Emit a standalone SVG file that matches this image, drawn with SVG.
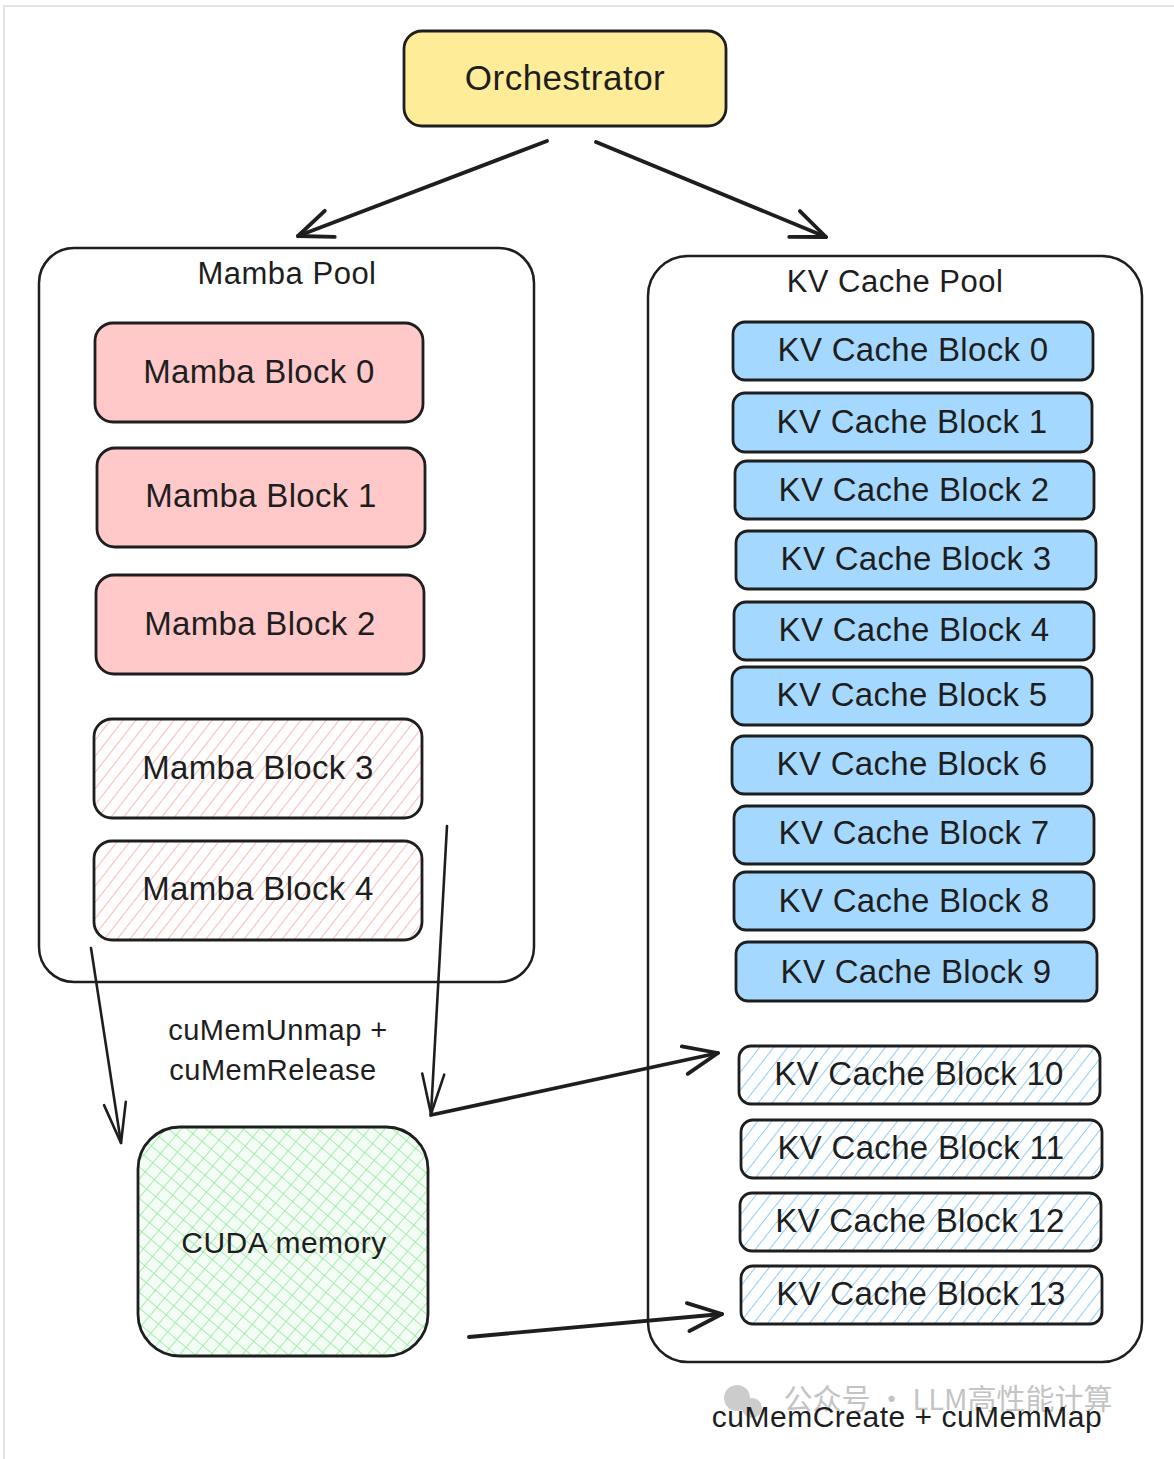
<svg xmlns="http://www.w3.org/2000/svg" width="1174" height="1459" viewBox="0 0 1174 1459">
  <style>
    .t { font-family: "Liberation Sans", Arial, sans-serif; fill: #1e1e1e; text-anchor: middle; }
    .blk { font-size: 33px; letter-spacing: 0.3px; }
    .pool { fill: #ffffff; stroke: #1e1e1e; stroke-width: 2.5; }
    .box { stroke: #1e1e1e; stroke-width: 2.8; }
    .mamba { fill: #ffc9c9; }
    .kv { fill: #a5d8ff; }
    .conn { fill: none; stroke: #1e1e1e; stroke-linecap: round; stroke-linejoin: round; }
  </style>
  <defs>
    <pattern id="hatchPink" patternUnits="userSpaceOnUse" width="10" height="10" patternTransform="rotate(38)">
      <rect width="10" height="10" fill="#ffffff"/>
      <line x1="0" y1="0" x2="0" y2="10" stroke="#f7a8a8" stroke-width="1.6"/>
    </pattern>
    <pattern id="hatchBlue" patternUnits="userSpaceOnUse" width="11" height="11" patternTransform="rotate(38)">
      <rect width="11" height="11" fill="#ffffff"/>
      <line x1="0" y1="0" x2="0" y2="11" stroke="#74c0fc" stroke-width="1.6"/>
    </pattern>
    <pattern id="crossGreen" patternUnits="userSpaceOnUse" width="12" height="12" patternTransform="rotate(40)">
      <rect width="12" height="12" fill="#f4fdf5"/>
      <line x1="0" y1="0" x2="0" y2="12" stroke="#8ce99a" stroke-width="1.5"/>
      <line x1="0" y1="0" x2="12" y2="0" stroke="#8ce99a" stroke-width="1.5"/>
    </pattern>
    <marker id="headBig" markerUnits="userSpaceOnUse" markerWidth="60" markerHeight="60" refX="0" refY="0" viewBox="-45 -30 60 60" orient="auto" overflow="visible">
      <path d="M-34,-14 L0,0 L-34,14" fill="none" stroke="#1e1e1e" stroke-width="3.8" stroke-linecap="round" stroke-linejoin="round"/>
    </marker>
    <marker id="headThin" markerUnits="userSpaceOnUse" markerWidth="60" markerHeight="60" refX="0" refY="0" viewBox="-45 -30 60 60" orient="auto" overflow="visible">
      <path d="M-40,-11 L0,0 L-40,11" fill="none" stroke="#1e1e1e" stroke-width="2.6" stroke-linecap="round" stroke-linejoin="round"/>
    </marker>
  </defs>

  <rect width="1174" height="1459" fill="#ffffff"/>
  <path d="M4,1459 L4,6 L1174,6" fill="none" stroke="#e4e4e4" stroke-width="2"/>

  <!-- watermark -->
  <g id="watermark" fill="#cccccc">
    <circle cx="737" cy="1398" r="13"/>
    <circle cx="752" cy="1408" r="10"/>
    <text x="948" y="1410" font-family="'Noto Sans CJK SC', 'Noto Sans', sans-serif" font-size="29" text-anchor="middle" fill="#c4c4c4">公众号 · LLM高性能计算</text>
  </g>

  <g id="orchestrator">
    <rect x="404" y="31" width="322" height="95" rx="18" fill="#ffec99" class="box"/>
    <text x="565" y="90" class="t" font-size="35" letter-spacing="0.5">Orchestrator</text>
  </g>

  <g id="mamba-pool">
    <rect x="39" y="248" width="495" height="734" rx="35" class="pool"/>
    <text x="287" y="284" class="t" font-size="31" letter-spacing="0.5">Mamba Pool</text>
  </g>

  <g id="mamba-block-0">
    <rect x="95" y="323" width="328" height="99" rx="18" class="box mamba"/>
    <text x="259" y="383" class="t blk">Mamba Block 0</text>
  </g>
  <g id="mamba-block-1">
    <rect x="97" y="448" width="328" height="99" rx="18" class="box mamba"/>
    <text x="261" y="507" class="t blk">Mamba Block 1</text>
  </g>
  <g id="mamba-block-2">
    <rect x="96" y="575" width="328" height="99" rx="18" class="box mamba"/>
    <text x="260" y="635" class="t blk">Mamba Block 2</text>
  </g>
  <g id="mamba-block-3">
    <rect x="94" y="719" width="328" height="99" rx="18" class="box" fill="url(#hatchPink)"/>
    <text x="258" y="779" class="t blk">Mamba Block 3</text>
  </g>
  <g id="mamba-block-4">
    <rect x="94" y="841" width="328" height="99" rx="18" class="box" fill="url(#hatchPink)"/>
    <text x="258" y="900" class="t blk">Mamba Block 4</text>
  </g>

  <g id="kv-pool">
    <rect x="648" y="256" width="494" height="1106" rx="40" class="pool"/>
    <text x="895" y="292" class="t" font-size="31" letter-spacing="0.5">KV Cache Pool</text>
  </g>

  <g id="kv-block-0"><rect x="733" y="322" width="360" height="58" rx="12" class="box kv"/><text x="913" y="361" class="t blk">KV Cache Block 0</text></g>
  <g id="kv-block-1"><rect x="733" y="393" width="359" height="59" rx="12" class="box kv"/><text x="912" y="433" class="t blk">KV Cache Block 1</text></g>
  <g id="kv-block-2"><rect x="735" y="461" width="359" height="58" rx="12" class="box kv"/><text x="914" y="501" class="t blk">KV Cache Block 2</text></g>
  <g id="kv-block-3"><rect x="736" y="531" width="360" height="58" rx="12" class="box kv"/><text x="916" y="570" class="t blk">KV Cache Block 3</text></g>
  <g id="kv-block-4"><rect x="734" y="602" width="360" height="58" rx="12" class="box kv"/><text x="914" y="641" class="t blk">KV Cache Block 4</text></g>
  <g id="kv-block-5"><rect x="732" y="667" width="360" height="58" rx="12" class="box kv"/><text x="912" y="706" class="t blk">KV Cache Block 5</text></g>
  <g id="kv-block-6"><rect x="732" y="736" width="360" height="58" rx="12" class="box kv"/><text x="912" y="775" class="t blk">KV Cache Block 6</text></g>
  <g id="kv-block-7"><rect x="734" y="806" width="360" height="58" rx="12" class="box kv"/><text x="914" y="844" class="t blk">KV Cache Block 7</text></g>
  <g id="kv-block-8"><rect x="734" y="872" width="360" height="58" rx="12" class="box kv"/><text x="914" y="912" class="t blk">KV Cache Block 8</text></g>
  <g id="kv-block-9"><rect x="736" y="942" width="361" height="59" rx="12" class="box kv"/><text x="916" y="983" class="t blk">KV Cache Block 9</text></g>
  <g id="kv-block-10"><rect x="739" y="1046" width="361" height="58" rx="12" class="box" fill="url(#hatchBlue)"/><text x="919" y="1085" class="t blk">KV Cache Block 10</text></g>
  <g id="kv-block-11"><rect x="741" y="1120" width="361" height="58" rx="12" class="box" fill="url(#hatchBlue)"/><text x="921" y="1159" class="t blk">KV Cache Block 11</text></g>
  <g id="kv-block-12"><rect x="740" y="1193" width="361" height="58" rx="12" class="box" fill="url(#hatchBlue)"/><text x="920" y="1232" class="t blk">KV Cache Block 12</text></g>
  <g id="kv-block-13"><rect x="741" y="1266" width="361" height="58" rx="12" class="box" fill="url(#hatchBlue)"/><text x="921" y="1305" class="t blk">KV Cache Block 13</text></g>

  <g id="cuda-memory">
    <rect x="138" y="1127" width="290" height="229" rx="42" class="box" fill="url(#crossGreen)"/>
    <text x="284" y="1253" class="t" font-size="30" letter-spacing="0.5">CUDA memory</text>
  </g>

  <g id="connectors">
    <path d="M547,141 L298,236" class="conn" stroke-width="3.8" marker-end="url(#headBig)"/>
    <path d="M596,142 L826,237" class="conn" stroke-width="3.8" marker-end="url(#headBig)"/>
    <path d="M91,948 L121,1143" class="conn" stroke-width="2.6" marker-end="url(#headThin)"/>
    <path d="M447,826 L431,1114" class="conn" stroke-width="2.6" marker-end="url(#headThin)"/>
    <path d="M431,1115 L718,1053" class="conn" stroke-width="3.8" marker-end="url(#headBig)"/>
    <path d="M469,1337 L722,1314" class="conn" stroke-width="3.8" marker-end="url(#headBig)"/>
  </g>

  <g id="labels">
    <text x="278" y="1040" class="t" font-size="29" letter-spacing="0.5">cuMemUnmap +</text>
    <text x="273" y="1080" class="t" font-size="29" letter-spacing="0.5">cuMemRelease</text>
    <text x="907" y="1427" class="t" font-size="30" letter-spacing="0.5">cuMemCreate + cuMemMap</text>
  </g>
</svg>
